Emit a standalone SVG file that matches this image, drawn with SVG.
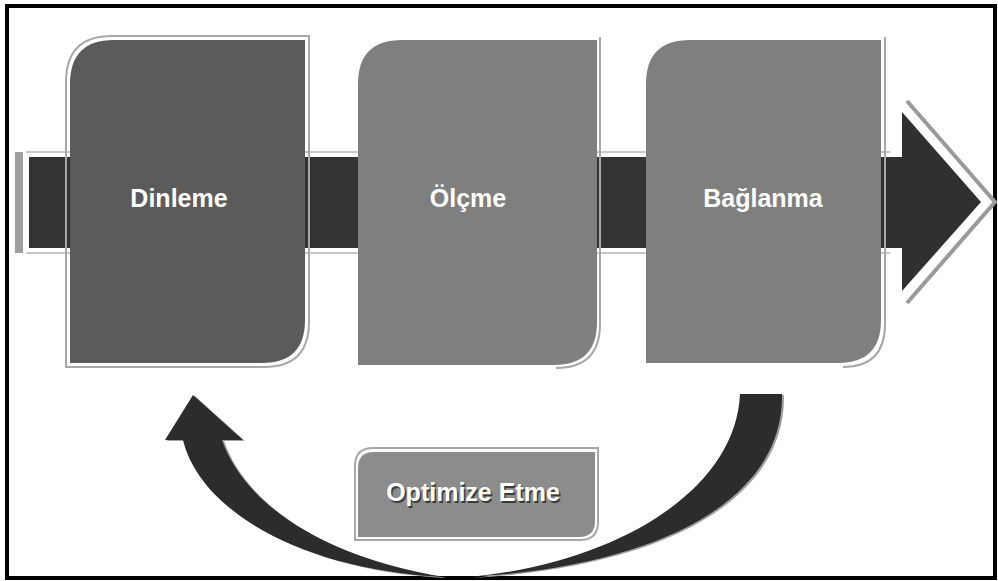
<svg xmlns="http://www.w3.org/2000/svg" width="998" height="581" viewBox="0 0 998 581">
<defs>
<style>
.lbl{font-family:"Liberation Sans",Arial,sans-serif;font-weight:bold;fill:#ffffff;text-anchor:middle}
.sh{font-family:"Liberation Sans",Arial,sans-serif;font-weight:bold;fill:#3a3a3a;text-anchor:middle}
.rim{fill:none;stroke:#a8a8a8;stroke-width:2}
.thin{fill:none;stroke:#c8c8c8;stroke-width:2}
</style>
</defs>
<rect x="0" y="0" width="998" height="581" fill="#ffffff"/>
<rect x="7" y="6" width="988" height="572" fill="none" stroke="#000" stroke-width="4"/>

<g id="connectors">
  <!-- main band -->
  <rect x="15" y="152" width="8" height="101" fill="#a0a0a0"/>
  <path class="thin" d="M26,152 H890 M26,253 H890"/>
  <rect x="29" y="157" width="875" height="91" fill="#333333"/>
  <!-- right arrowhead -->
  <path d="M907,101 L995,202 L907,303" fill="none" stroke="#9a9a9a" stroke-width="4"/>
  <polygon points="883,157 902,157 902,112 981,202 902,291 902,248 883,248" fill="#303030"/>
  <!-- curved return arrow -->
  <g transform="translate(2,1)" fill="#a0a0a0">
    <path d="M782,394 C784,500 660,566 470,577 C622,562 736,488 740,394 Z"/>
    <path d="M445,577 C300,570 200,510 183,440 L165,440 L193,395 L243,440 L222,440 C245,505 325,558 445,577 Z"/>
  </g>
  <g fill="#2c2c2c">
    <path d="M782,394 C784,500 660,566 470,577 C622,562 736,488 740,394 Z"/>
    <path d="M445,577 C300,570 200,510 183,440 L165,440 L193,395 L243,440 L222,440 C245,505 325,558 445,577 Z"/>
  </g>
</g>

<g id="node-dinleme">
  <path class="rim" d="M66,82 Q66,36 112,36 L309,36 L309,322 Q309,367 264,367 L66,367 Z"/>
  <path d="M70,84 Q70,40 114,40 L305,40 L305,320 Q305,363 262,363 L70,363 Z" fill="#5b5b5b"/>
  <text class="lbl" x="179" y="207" font-size="25">Dinleme</text>
</g>

<g id="node-olcme">
  <path d="M358,84 Q358,40 402,40 L597,40 L597,322 Q597,365 554,365 L358,365 Z" fill="#7f7f7f"/>
  <path class="rim" d="M600,37 L600,324 Q600,368 556,368"/>
  <text class="lbl" x="468" y="207" font-size="25">Ölçme</text>
</g>

<g id="node-baglanma">
  <path d="M646,84 Q646,40 690,40 L881,40 L881,320 Q881,363 838,363 L646,363 Z" fill="#7f7f7f"/>
  <path class="rim" d="M885,37 L885,324 Q885,367 843,367"/>
  <text class="lbl" x="763" y="207" font-size="25">Bağlanma</text>
</g>

<g id="node-optimize">
  <path class="rim" d="M355,466 Q355,448 373,448 L598,448 L598,522 Q598,540 580,540 L355,540 Z"/>
  <path d="M358,468 Q358,452 374,452 L595,452 L595,521 Q595,537 579,537 L358,537 Z" fill="#8c8c8c"/>
  <text class="sh" x="474.5" y="502.5" font-size="25">Optimize Etme</text>
  <text class="lbl" x="473" y="501" font-size="25">Optimize Etme</text>
</g>
</svg>
